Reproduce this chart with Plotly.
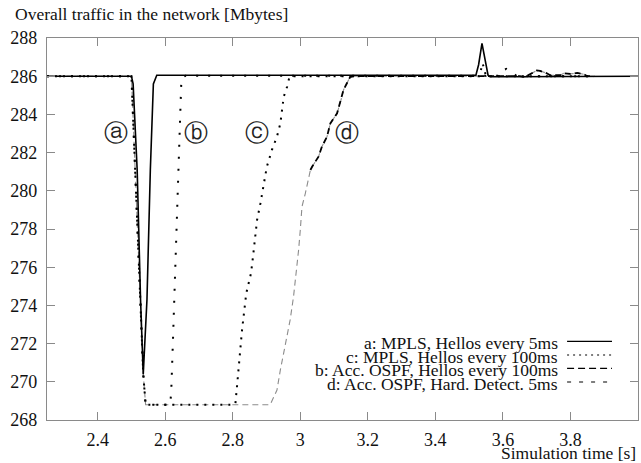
import plotly.graph_objects as go

# ---------------- data ----------------
# a: MPLS, Hellos every 5ms (solid)
a_t = [2.25, 2.50, 2.505, 2.517, 2.527, 2.535, 2.546, 2.556, 2.565, 2.575,
       3.52, 3.528, 3.538, 3.548, 3.556, 3.562, 4.0]
a_v = [286.0, 286.0, 285.6, 281.1, 274.3, 270.4, 274.3, 281.1, 285.6, 286.05,
       286.05, 286.6, 287.72, 286.8, 286.05, 285.97, 286.0]

# c: MPLS, Hellos every 100ms (dotted, recovers at ~2.62 s -> circled "b")
c_t = [2.25, 2.50, 2.535, 2.542, 2.615, 2.618, 2.623, 2.639, 2.642, 2.645, 2.648,
       2.66, 3.59, 3.60, 3.61, 3.62, 3.63, 3.64, 3.87]
c_v = [286.0, 286.0, 270.4, 268.8, 268.8, 269.57, 272.19, 281.35, 283.29, 285.28, 285.89,
       286.02, 286.02, 286.3, 286.38, 286.25, 286.2, 286.0, 286.0]

# b: Acc. OSPF, Hellos every 100ms (recovers 2.80-2.97 s -> circled "c")
b_t = [2.25, 2.50, 2.535, 2.542, 2.805, 2.808, 2.817, 2.8275, 2.840, 2.854, 2.860,
       2.872, 2.882, 2.901, 2.916, 2.931, 2.941, 2.951, 2.961, 2.968, 2.98,
       3.53, 3.54, 3.55, 3.87]
b_v = [286.0, 286.0, 270.4, 268.8, 268.8, 268.87, 270.62, 272.71, 274.63, 275.68, 276.55,
       278.47, 279.35, 281.26, 282.14, 282.84, 283.53, 284.93, 285.45, 285.97, 286.0,
       286.0, 286.67, 286.0, 286.0]

# d: Acc. OSPF, Hard. Detect. 5ms (recovers 2.91-3.15 s -> circled "d")
d_t = [2.25, 2.50, 2.535, 2.542, 2.911, 2.931, 2.941, 2.951, 2.961, 2.970, 2.980,
       2.988, 2.995, 3.000, 3.005, 3.015, 3.030, 3.035, 3.054, 3.064, 3.079, 3.089,
       3.109, 3.118, 3.128, 3.138, 3.148, 3.16, 3.65, 3.665, 3.69, 3.70, 3.71,
       3.72, 3.73, 3.74, 3.77, 3.78, 3.80, 3.82, 3.84, 3.85, 3.87]
d_v = [286.0, 286.0, 270.4, 268.8, 268.8, 269.57, 270.62, 271.49, 272.36, 273.24, 274.46,
       275.68, 276.9, 277.95, 279.17, 279.87, 281.09, 281.26, 281.79, 282.31, 282.83, 283.53,
       284.06, 284.58, 285.28, 285.63, 285.97, 286.0, 286.0, 285.95, 286.2, 286.3, 286.28,
       286.22, 286.15, 286.05, 286.05, 286.15, 286.12, 286.17, 286.1, 286.0, 286.0]

# circled curve labels
label_text = ["ⓐ", "ⓑ", "ⓒ", "ⓓ"]
label_t = [2.453, 2.691, 2.872, 3.138]
label_v = [283.05, 283.05, 283.05, 283.05]

legend_labels = ["a: MPLS, Hellos every 5ms",
                 "c: MPLS, Hellos every 100ms",
                 "b: Acc. OSPF, Hellos every 100ms",
                 "d: Acc. OSPF, Hard. Detect. 5ms"]

x_ticks = [2.4, 2.6, 2.8, 3.0, 3.2, 3.4, 3.6, 3.8, 4.0]
x_ticktext = ["2.4", "2.6", "2.8", "3", "3.2", "3.4", "3.6", "3.8", "4"]
y_ticks = [268, 270, 272, 274, 276, 278, 280, 282, 284, 286, 288]

# ---------------- figure ----------------
SERIF = "Liberation Serif"
fig = go.Figure()

# d (thin, light dashes)
fig.add_trace(go.Scatter(x=d_t, y=d_v, mode="lines", showlegend=False,
                         line=dict(color="#8c8c8c", width=1.1, dash="6px,4px")))
# overlapping darker part of d (where b/d coincide visually)
up_idx = [i for i, t in enumerate(d_t) if t >= 3.03]
fig.add_trace(go.Scatter(x=[d_t[i] for i in up_idx], y=[d_v[i] for i in up_idx],
                         mode="lines", showlegend=False,
                         line=dict(color="black", width=1.8, dash="6px,4px")))
# b
fig.add_trace(go.Scatter(x=b_t, y=b_v, mode="lines", showlegend=False,
                         line=dict(color="black", width=2, dash="2px,6px")))
# c
fig.add_trace(go.Scatter(x=c_t, y=c_v, mode="lines", showlegend=False,
                         line=dict(color="black", width=2, dash="2px,10px")))
# a
fig.add_trace(go.Scatter(x=a_t, y=a_v, mode="lines", showlegend=False,
                         line=dict(color="black", width=1.6)))

for txt, t, v in zip(label_text, label_t, label_v):
    fig.add_annotation(x=t, y=v, text=txt, showarrow=False,
                       font=dict(family="DejaVu Sans", size=24, color="#222"))

# manual legend (text right-aligned, sample on the right)
leg_y = [0.2016, 0.1662, 0.1309, 0.0955]
leg_dash = ["solid", "2px,4px", "7px,4px", "4px,8px"]
for lab, yy, ds in zip(legend_labels, leg_y, leg_dash):
    fig.add_annotation(xref="paper", yref="paper", x=0.868, y=yy, text=lab,
                       xanchor="right", yanchor="middle", showarrow=False,
                       font=dict(family=SERIF, size=17.5, color="#111"))
    fig.add_shape(type="line", xref="paper", yref="paper", x0=0.880, x1=0.956,
                  y0=yy + 0.004, y1=yy + 0.004,
                  line=dict(color="black", width=1.2, dash=ds))

fig.add_annotation(xref="paper", yref="paper", x=-0.0575, y=1.062,
                   text="Overall traffic in the network [Mbytes]",
                   xanchor="left", yanchor="middle", showarrow=False,
                   font=dict(family=SERIF, size=17.5, color="#111"))
fig.add_annotation(xref="paper", yref="paper", x=1.0, y=-0.086,
                   text="Simulation time [s]",
                   xanchor="right", yanchor="middle", showarrow=False,
                   font=dict(family=SERIF, size=17.5, color="#111"))

axis_common = dict(showgrid=False, zeroline=False, showline=True, mirror="ticks",
                   linecolor="#8a8a8a", linewidth=1.4, ticks="inside", ticklen=8,
                   tickcolor="#8a8a8a", tickwidth=1.2, automargin=False,
                   tickfont=dict(family=SERIF, size=18, color="#111"))

fig.update_layout(
    width=641, height=463,
    margin=dict(l=47, r=3, t=38, b=43, autoexpand=False),
    font=dict(family=SERIF, size=18, color="#111"),
    paper_bgcolor="white", plot_bgcolor="white",
    showlegend=False,
    xaxis=dict(range=[2.25, 4.0], tickvals=x_ticks, ticktext=x_ticktext,
               ticklabelstandoff=3, **axis_common),
    yaxis=dict(range=[268, 288], tickvals=y_ticks,
               ticklabelstandoff=5, **axis_common),
)

fig.write_html("out.html", config={"displayModeBar": False},
               post_script="document.body.style.margin='0';document.body.style.padding='0';")
